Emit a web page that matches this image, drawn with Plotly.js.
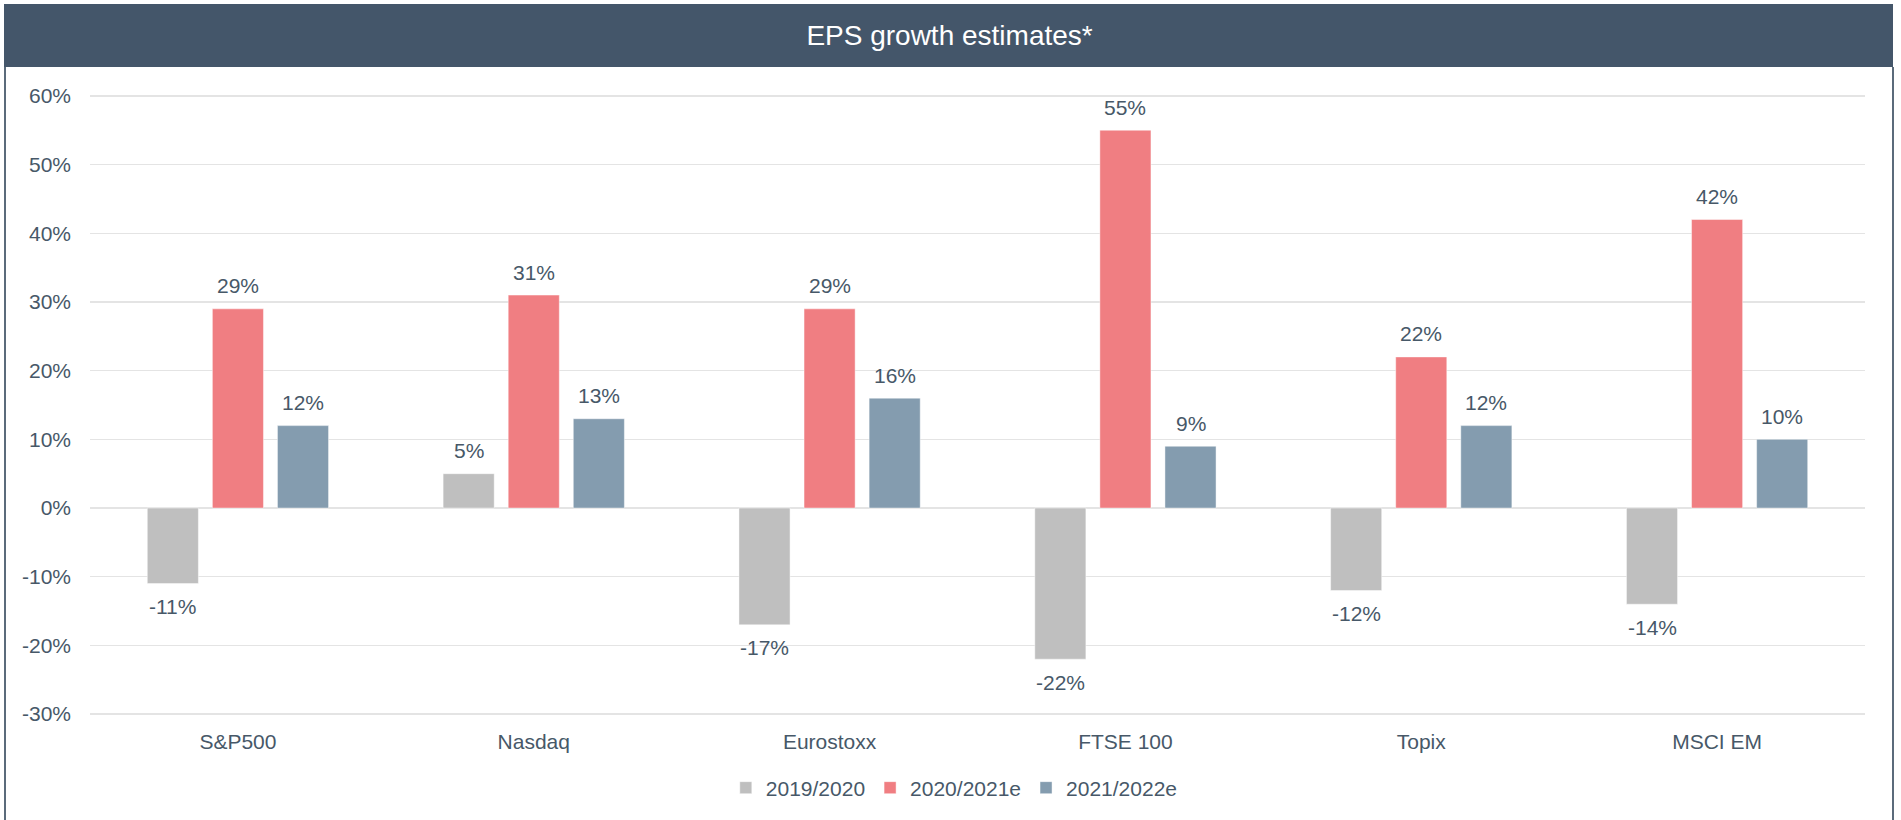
<!DOCTYPE html>
<html>
<head>
<meta charset="utf-8">
<script src="https://cdn.plot.ly/plotly-3.0.1.min.js"></script>
<style>
  html, body { margin: 0; padding: 0; background: #ffffff; }
  #wrap { position: relative; width: 1901px; height: 820px; overflow: hidden; }
  #header { position: absolute; left: 4px; top: 4px; width: 1889px; height: 63px; background: #44566A; }
  #bl { position: absolute; left: 4px; top: 67px; width: 2px; height: 760px; background: #5B6B7B; }
  #br { position: absolute; left: 1892px; top: 67px; width: 2px; height: 760px; background: #5B6B7B; }
  #chart { position: absolute; left: 0; top: 0; width: 1901px; height: 820px; }
</style>
</head>
<body>
<div id="wrap">
  <div id="header"></div>
  <div id="bl"></div>
  <div id="br"></div>
  <div id="chart"></div>
</div>
<script>
const categories = ["S&P500", "Nasdaq", "Eurostoxx", "FTSE 100", "Topix", "MSCI EM"];
const seriesNames = ["2019/2020", "2020/2021e", "2021/2022e"];
const eps2019_2020 = [-11, 5, -17, -22, -12, -14];
const eps2020_2021e = [29, 31, 29, 55, 22, 42];
const eps2021_2022e = [12, 13, 16, 9, 12, 10];
const yTicks = [-30, -20, -10, 0, 10, 20, 30, 40, 50, 60];

const seriesValues = [eps2019_2020, eps2020_2021e, eps2021_2022e];
const colors = ["#BFBFBF", "#F07E82", "#849CAF"];
const textColor = "#475868";
const fontFam = "Liberation Sans, Arial, Helvetica, sans-serif";
const bargap = 0.34;
const nSeries = seriesValues.length;
const slot = (1 - bargap) / nSeries;

const traces = seriesValues.map((vals, s) => ({
  type: "bar",
  name: seriesNames[s],
  x: categories,
  y: vals,
  marker: { color: colors[s], line: { color: "rgba(255,255,255,0.45)", width: 1 } },
  hoverinfo: "skip"
}));

const annotations = [];
seriesValues.forEach((vals, s) => {
  const off = (s - (nSeries - 1) / 2) * slot;
  vals.forEach((v, i) => {
    annotations.push({
      x: i + off, y: v, xref: "x", yref: "y",
      text: v + "%", showarrow: false,
      yanchor: "middle", xanchor: "center",
      yshift: v >= 0 ? 23 : -23,
      font: { family: fontFam, size: 21, color: textColor }
    });
  });
});

const layout = {
  width: 1901, height: 820,
  margin: { l: 90, r: 36, t: 89, b: 99, pad: 0 },
  paper_bgcolor: "rgba(0,0,0,0)",
  plot_bgcolor: "rgba(0,0,0,0)",
  font: { family: fontFam, size: 21, color: textColor },
  barmode: "group",
  bargap: bargap,
  bargroupgap: 0.215,
  title: {
    text: "EPS growth estimates*",
    x: 0.4995, xref: "container", xanchor: "center",
    y: 1 - 35.5 / 820, yref: "container", yanchor: "middle",
    font: { family: fontFam, size: 28, color: "#ffffff" }
  },
  xaxis: {
    type: "category",
    showgrid: false, showline: false, zeroline: false,
    ticks: "", ticklabelstandoff: 6,
    tickfont: { family: fontFam, size: 21, color: textColor },
    fixedrange: true
  },
  yaxis: {
    range: [-31, 61],
    tickvals: yTicks,
    ticktext: yTicks.map(v => v + "%"),
    showgrid: true, gridcolor: "#E4E4E4", gridwidth: 1.3,
    zeroline: true, zerolinecolor: "#E4E4E4", zerolinewidth: 1.3,
    showline: false, ticks: "", ticklabelstandoff: 18,
    tickfont: { family: fontFam, size: 21, color: textColor },
    fixedrange: true
  },
  showlegend: true,
  legend: {
    orientation: "h",
    xref: "container", yref: "container",
    x: 0.502, xanchor: "center",
    y: 1 - 788 / 820, yanchor: "middle",
    font: { family: fontFam, size: 21, color: textColor },
    bgcolor: "rgba(0,0,0,0)",
    traceorder: "normal"
  },
  annotations: annotations
};

Plotly.newPlot("chart", traces, layout, { displayModeBar: false, staticPlot: true });
</script>
</body>
</html>
